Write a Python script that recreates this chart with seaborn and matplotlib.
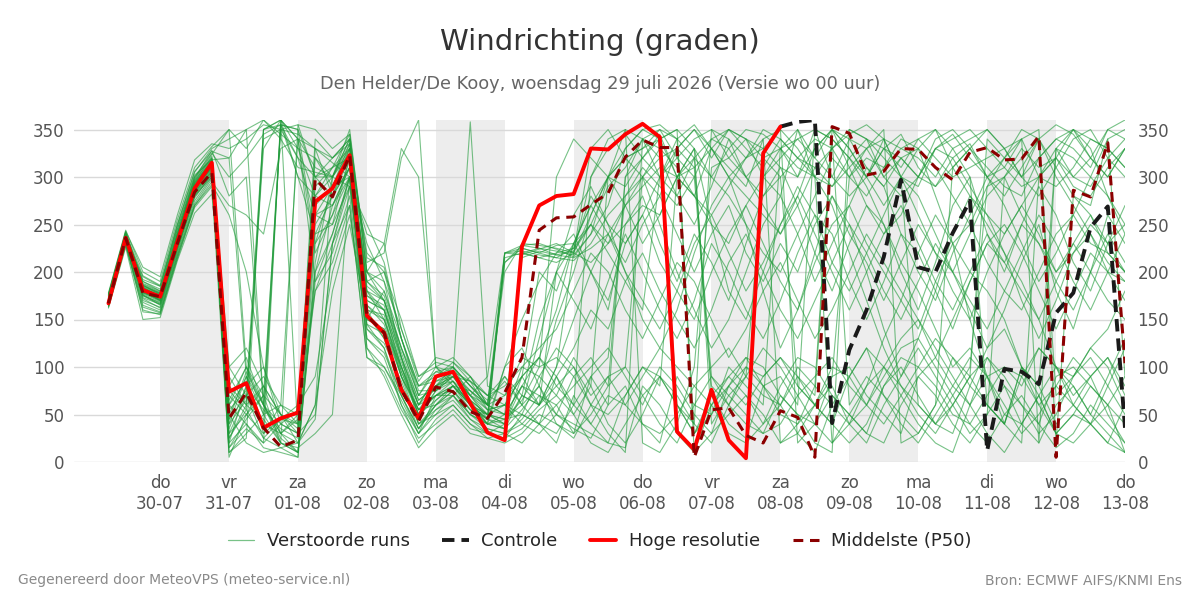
import pandas as pd
import numpy as np
import matplotlib
matplotlib.use("Agg")
import matplotlib.pyplot as plt
from matplotlib.lines import Line2D
import seaborn as sns

# tijdstappen: elke 6 uur vanaf wo 29-07 06:00 t/m do 13-08 00:00
times = pd.date_range("2026-07-29 06:00", periods=60, freq="6h")

# Hoge resolutie (loopt tot za 08-08 00:00)
hres = [167, 236, 181, 174, 232, 288, 315, 74, 83, 36, 46, 52, 274, 288, 323, 154, 136, 76, 46, 90,
        95, 62, 31, 23, 227, 270, 280, 282, 330, 329, 345, 356, 342, 32, 13, 76, 23, 4, 325, 353]

# Controle (vanaf za 08-08 00:00)
controle = [353, 358, 360, 41, 118, 160, 216, 297, 205, 200, 241, 275, 12, 98, 95, 82, 157, 178, 247, 269, 36]

# Middelste (P50)
p50 = [167, 236, 178, 174, 230, 284, 305, 46, 73, 36, 16, 23, 298, 279, 323, 154, 136, 76, 43, 79,
       74, 53, 46, 73, 110, 244, 257, 258, 271, 283, 321, 339, 331, 331, 5, 55, 57, 28, 20, 54,
       47, 5, 353, 346, 302, 306, 330, 329, 310, 297, 326, 331, 318, 319, 343, 5, 286, 279, 336, 104]

# verstoorde runs
ens_01 = [168, 238, 182, 175, 236, 292, 318, 60, 85, 40, 30, 45, 260, 290, 330, 160, 130, 80, 45, 85,
          90, 65, 40, 35, 220, 225, 218, 222, 250, 290, 310, 340, 330, 60, 30, 70, 40, 25, 80, 60,
          90, 70, 340, 320, 300, 330, 345, 310, 290, 320, 335, 300, 320, 340, 350, 20, 280, 270, 340, 90]
ens_02 = [172, 232, 175, 168, 228, 285, 305, 30, 70, 25, 15, 20, 45, 230, 300, 140, 120, 60, 30, 70,
          80, 55, 50, 45, 60, 80, 40, 30, 90, 60, 300, 320, 345, 300, 280, 330, 350, 340, 320, 300,
          80, 60, 40, 90, 120, 70, 50, 30, 60, 110, 90, 60, 40, 100, 80, 40, 60, 90, 110, 70]
ens_03 = [176, 240, 190, 180, 245, 300, 325, 300, 320, 345, 355, 320, 300, 280, 310, 200, 170, 120, 70, 95,
          100, 80, 60, 220, 228, 225, 222, 218, 240, 270, 330, 350, 355, 340, 320, 300, 330, 350, 345, 330,
          310, 300, 330, 350, 340, 320, 300, 290, 330, 345, 320, 300, 280, 310, 340, 355, 345, 320, 300, 330]
ens_04 = [165, 230, 168, 160, 220, 275, 300, 45, 95, 60, 20, 10, 230, 260, 320, 180, 150, 90, 55, 60,
          75, 50, 35, 30, 45, 70, 50, 35, 25, 60, 80, 40, 20, 90, 60, 50, 100, 80, 60, 330,
          350, 300, 20, 40, 80, 130, 170, 220, 260, 230, 200, 180, 150, 100, 60, 80, 110, 90, 50, 20]
ens_05 = [170, 235, 195, 185, 250, 305, 330, 340, 350, 360, 345, 330, 320, 300, 290, 250, 210, 130, 80, 90,
          95, 60, 45, 40, 80, 110, 90, 60, 300, 330, 345, 320, 300, 340, 355, 330, 300, 280, 260, 240,
          270, 310, 330, 345, 355, 340, 300, 60, 40, 30, 80, 120, 140, 100, 70, 30, 50, 80, 60, 10]
ens_06 = [168, 238, 180, 170, 230, 290, 315, 20, 40, 15, 10, 5, 200, 240, 300, 150, 140, 100, 60, 80,
          85, 70, 90, 220, 225, 220, 215, 212, 230, 260, 280, 300, 320, 330, 310, 90, 60, 40, 30, 70,
          50, 20, 10, 350, 340, 330, 320, 300, 340, 350, 330, 310, 290, 280, 320, 340, 330, 310, 350, 360]
ens_07 = [163, 228, 160, 155, 215, 270, 295, 270, 260, 240, 330, 340, 310, 300, 340, 170, 160, 110, 40, 50,
          70, 90, 60, 50, 100, 90, 70, 110, 80, 40, 20, 50, 90, 70, 40, 20, 60, 100, 80, 90,
          60, 350, 340, 320, 290, 250, 210, 180, 140, 100, 120, 90, 50, 40, 70, 30, 50, 40, 20, 60]
ens_08 = [175, 242, 185, 178, 240, 300, 320, 80, 110, 60, 40, 30, 280, 300, 340, 200, 180, 120, 70, 100,
          110, 90, 60, 200, 230, 228, 225, 220, 260, 300, 320, 330, 350, 340, 30, 60, 80, 100, 90, 110,
          80, 60, 90, 300, 320, 310, 340, 330, 280, 230, 150, 90, 40, 100, 80, 330, 350, 320, 300, 330]
ens_09 = [171, 234, 176, 165, 226, 282, 306, 10, 30, 50, 60, 40, 340, 320, 335, 120, 100, 70, 35, 60,
          70, 45, 30, 25, 50, 40, 20, 70, 40, 20, 15, 80, 60, 30, 10, 60, 90, 70, 50, 20,
          40, 80, 350, 330, 300, 270, 300, 330, 350, 310, 280, 250, 220, 190, 150, 100, 90, 120, 140, 180]
ens_10 = [166, 236, 178, 172, 234, 288, 310, 55, 75, 350, 355, 300, 280, 310, 320, 190, 200, 130, 70, 75,
          95, 85, 55, 60, 40, 30, 50, 90, 110, 80, 300, 340, 320, 280, 250, 290, 340, 320, 330, 350,
          330, 300, 270, 220, 170, 120, 80, 60, 40, 70, 100, 290, 300, 330, 310, 320, 350, 340, 330, 310]
ens_11 = [178, 244, 200, 190, 255, 310, 332, 350, 100, 60, 30, 50, 320, 290, 300, 230, 190, 140, 90, 105,
          100, 70, 45, 35, 70, 60, 80, 100, 70, 90, 60, 40, 30, 50, 80, 100, 120, 90, 70, 60,
          30, 10, 60, 90, 120, 100, 80, 50, 30, 60, 90, 340, 320, 300, 340, 70, 90, 110, 80, 50]
ens_12 = [169, 233, 172, 162, 222, 280, 302, 25, 60, 45, 20, 10, 190, 220, 280, 130, 110, 60, 20, 45,
          60, 40, 25, 20, 30, 50, 40, 25, 60, 90, 100, 70, 40, 20, 60, 90, 70, 50, 30, 40,
          70, 90, 110, 80, 60, 90, 120, 130, 100, 70, 40, 20, 50, 70, 40, 15, 30, 60, 40, 20]
ens_13 = [173, 239, 186, 176, 238, 295, 322, 5, 50, 80, 50, 30, 240, 250, 290, 160, 150, 100, 50, 65,
          80, 75, 60, 50, 220, 215, 220, 225, 280, 250, 230, 260, 300, 320, 340, 350, 320, 300, 280, 300,
          320, 340, 330, 300, 280, 310, 330, 340, 320, 300, 310, 320, 330, 300, 280, 310, 340, 350, 320, 300]
ens_14 = [164, 229, 165, 158, 218, 272, 298, 40, 90, 30, 60, 340, 330, 280, 310, 140, 125, 85, 40, 55,
          65, 45, 35, 30, 20, 40, 60, 80, 100, 120, 90, 60, 100, 80, 50, 30, 80, 110, 100, 70,
          50, 40, 90, 100, 70, 50, 30, 90, 110, 80, 60, 30, 10, 40, 70, 100, 80, 50, 90, 130]
ens_15 = [170, 237, 190, 182, 248, 302, 318, 320, 90, 50, 355, 350, 300, 310, 345, 210, 220, 320, 360, 100,
          95, 358, 80, 70, 110, 100, 300, 340, 320, 300, 350, 20, 10, 40, 100, 310, 320, 340, 300, 280,
          350, 320, 300, 340, 330, 350, 20, 30, 60, 310, 330, 300, 310, 340, 20, 330, 300, 320, 350, 340]
ens_16 = [167, 231, 178, 170, 228, 284, 308, 15, 35, 20, 40, 55, 180, 210, 270, 110, 95, 55, 25, 40,
          55, 35, 30, 40, 215, 222, 218, 215, 225, 240, 270, 290, 310, 300, 280, 250, 230, 270, 300, 330,
          340, 320, 350, 310, 270, 240, 260, 300, 330, 320, 290, 260, 240, 270, 300, 320, 300, 290, 320, 340]
ens_17 = [174, 241, 183, 175, 235, 293, 316, 70, 50, 30, 45, 60, 90, 200, 260, 145, 135, 75, 45, 75,
          85, 60, 40, 100, 120, 80, 50, 40, 30, 20, 70, 100, 90, 60, 40, 350, 340, 300, 320, 330,
          300, 350, 340, 60, 90, 70, 40, 20, 50, 80, 110, 90, 60, 30, 50, 80, 60, 40, 20, 10]
ens_18 = [162, 226, 150, 152, 212, 262, 282, 100, 120, 80, 30, 20, 60, 300, 330, 180, 170, 110, 60, 90,
          105, 85, 70, 90, 70, 60, 100, 220, 210, 230, 250, 270, 260, 300, 330, 300, 280, 250, 220, 200,
          240, 280, 320, 300, 330, 340, 300, 260, 220, 200, 240, 280, 300, 260, 230, 200, 220, 240, 210, 190]
ens_19 = [177, 243, 205, 195, 260, 318, 335, 330, 340, 355, 350, 345, 330, 315, 300, 240, 230, 140, 85, 110,
          105, 90, 70, 60, 50, 90, 120, 100, 60, 30, 10, 340, 350, 320, 300, 80, 60, 90, 120, 100,
          70, 40, 20, 50, 80, 100, 70, 40, 20, 10, 60, 90, 100, 80, 120, 100, 60, 40, 80, 120]
ens_20 = [168, 235, 173, 166, 225, 280, 300, 60, 100, 70, 20, 15, 30, 50, 300, 120, 90, 50, 15, 35,
          50, 30, 25, 30, 40, 60, 90, 50, 80, 300, 320, 330, 340, 350, 10, 30, 50, 70, 40, 60,
          100, 80, 60, 40, 20, 60, 90, 120, 90, 60, 30, 50, 80, 60, 30, 50, 90, 120, 100, 60]
ens_21 = [171, 237, 181, 173, 233, 290, 312, 35, 80, 55, 35, 25, 250, 280, 320, 170, 160, 95, 55, 70,
          75, 55, 45, 220, 218, 224, 230, 220, 300, 340, 350, 340, 300, 280, 320, 340, 350, 330, 310, 340,
          320, 300, 290, 320, 340, 300, 280, 300, 330, 340, 350, 330, 310, 290, 300, 320, 290, 280, 310, 330]
ens_22 = [175, 240, 192, 185, 245, 298, 328, 280, 300, 60, 25, 10, 200, 270, 310, 190, 175, 120, 80, 85,
          95, 70, 55, 60, 90, 110, 80, 60, 40, 70, 60, 90, 120, 100, 80, 60, 30, 20, 40, 80,
          110, 100, 70, 50, 30, 80, 110, 100, 80, 50, 40, 70, 100, 90, 60, 30, 20, 40, 60, 90]
ens_23 = [165, 232, 170, 163, 224, 278, 303, 50, 20, 10, 15, 5, 330, 320, 340, 150, 140, 90, 50, 80,
          90, 65, 50, 210, 225, 220, 228, 230, 270, 300, 290, 320, 340, 350, 330, 40, 70, 90, 300, 320,
          340, 350, 300, 280, 300, 330, 310, 340, 350, 330, 300, 60, 40, 20, 300, 330, 320, 300, 340, 350]
ens_24 = [172, 236, 184, 177, 238, 294, 319, 90, 60, 80, 50, 40, 290, 310, 330, 220, 200, 150, 90, 100,
          85, 60, 40, 50, 80, 70, 60, 30, 50, 80, 100, 300, 330, 310, 280, 260, 290, 320, 340, 20,
          30, 60, 80, 40, 60, 100, 130, 150, 120, 90, 60, 110, 90, 60, 40, 90, 100, 80, 60, 40]
ens_25 = [169, 234, 177, 169, 230, 286, 309, 15, 45, 70, 50, 35, 300, 300, 325, 165, 145, 90, 40, 60,
          80, 60, 45, 220, 222, 218, 215, 225, 250, 220, 190, 160, 300, 330, 350, 330, 310, 290, 340, 350,
          20, 40, 70, 50, 30, 20, 60, 90, 70, 40, 20, 50, 300, 320, 340, 300, 270, 240, 200, 190]
ens_26 = [176, 242, 188, 180, 242, 296, 320, 65, 100, 50, 20, 355, 350, 330, 345, 200, 190, 110, 65, 80,
          100, 80, 65, 85, 60, 40, 30, 60, 90, 110, 280, 310, 290, 270, 300, 340, 330, 300, 270, 240,
          280, 330, 350, 340, 310, 290, 320, 330, 310, 280, 250, 290, 320, 350, 340, 310, 280, 260, 220, 200]
ens_27 = [167, 230, 163, 157, 217, 270, 292, 260, 200, 100, 40, 30, 50, 230, 270, 110, 100, 65, 30, 50,
          60, 40, 30, 25, 35, 55, 70, 50, 20, 10, 40, 70, 90, 60, 30, 50, 80, 60, 90, 110,
          90, 60, 40, 20, 40, 80, 100, 70, 40, 60, 90, 110, 80, 40, 20, 60, 80, 50, 30, 10]
ens_28 = [173, 238, 184, 174, 236, 291, 314, 45, 70, 90, 60, 50, 270, 290, 320, 175, 165, 105, 60, 70,
          70, 50, 40, 215, 220, 215, 210, 220, 330, 350, 320, 300, 280, 330, 350, 320, 350, 340, 330, 310,
          300, 330, 350, 330, 300, 340, 330, 320, 300, 330, 340, 350, 330, 300, 320, 340, 350, 330, 280, 250]
ens_29 = [170, 235, 179, 171, 231, 287, 311, 75, 55, 25, 45, 40, 260, 270, 300, 155, 130, 80, 35, 65,
          80, 60, 50, 45, 65, 100, 110, 90, 60, 50, 70, 100, 80, 300, 320, 70, 90, 110, 80, 50,
          40, 60, 100, 90, 60, 40, 70, 100, 130, 110, 80, 60, 40, 90, 120, 100, 70, 90, 110, 80]
ens_30 = [171, 236, 186, 178, 240, 297, 324, 350, 330, 360, 340, 310, 305, 300, 335, 215, 205, 130, 75, 75,
          90, 75, 60, 210, 228, 230, 224, 216, 240, 300, 330, 350, 340, 300, 310, 330, 300, 320, 350, 340,
          320, 310, 290, 310, 330, 300, 320, 300, 290, 310, 330, 350, 330, 340, 300, 290, 310, 340, 330, 310]
ens_31 = [169, 235, 183, 176, 234, 290, 313, 40, 65, 330, 360, 340, 220, 260, 300, 180, 160, 100, 50, 70,
          85, 60, 45, 100, 150, 190, 220, 240, 200, 170, 230, 260, 210, 180, 150, 200, 240, 270, 230, 190,
          160, 210, 250, 270, 230, 200, 170, 140, 190, 230, 250, 210, 180, 160, 200, 240, 260, 230, 220, 200]
ens_32 = [174, 239, 179, 170, 229, 286, 310, 25, 55, 350, 360, 300, 240, 280, 330, 165, 150, 95, 50, 75,
          90, 70, 60, 90, 60, 130, 200, 260, 290, 250, 200, 150, 120, 160, 220, 270, 300, 250, 180, 120,
          160, 220, 280, 250, 200, 140, 90, 130, 180, 240, 280, 260, 220, 170, 130, 170, 220, 250, 230, 250]
ens_33 = [166, 233, 176, 167, 227, 283, 307, 60, 40, 20, 360, 30, 180, 230, 290, 145, 120, 70, 30, 55,
          70, 50, 40, 35, 55, 80, 150, 200, 260, 300, 270, 230, 260, 300, 330, 250, 180, 150, 200, 250,
          290, 260, 210, 180, 220, 260, 300, 280, 240, 200, 160, 120, 160, 210, 250, 180, 140, 200, 260, 230]
ens_34 = [172, 240, 187, 179, 240, 294, 317, 80, 60, 340, 350, 320, 260, 250, 320, 190, 170, 110, 60, 90,
          100, 80, 60, 70, 90, 60, 200, 230, 250, 230, 270, 300, 250, 200, 160, 120, 150, 200, 250, 280,
          240, 190, 230, 270, 310, 290, 240, 200, 170, 220, 260, 300, 270, 230, 190, 220, 260, 300, 280, 240]
ens_35 = [170, 236, 180, 171, 231, 288, 311, 20, 80, 100, 50, 20, 60, 180, 250, 150, 180, 130, 80, 95,
          90, 85, 70, 80, 100, 120, 140, 180, 220, 200, 160, 130, 170, 210, 190, 150, 110, 140, 180, 210,
          170, 130, 160, 200, 240, 210, 180, 150, 110, 150, 190, 230, 250, 220, 180, 140, 180, 220, 200, 170]
ens_36 = [175, 241, 196, 186, 250, 306, 327, 320, 350, 60, 30, 10, 210, 300, 350, 200, 230, 330, 300, 100,
          80, 60, 50, 40, 90, 200, 180, 230, 200, 160, 250, 280, 230, 190, 240, 210, 170, 230, 280, 310,
          270, 220, 180, 230, 270, 250, 200, 160, 210, 270, 300, 240, 200, 250, 290, 260, 210, 180, 230, 270]
ens_37 = [168, 234, 175, 166, 225, 281, 304, 30, 50, 70, 350, 355, 300, 320, 340, 160, 155, 90, 55, 70,
          80, 65, 50, 40, 70, 150, 200, 170, 140, 190, 240, 200, 160, 130, 170, 230, 200, 160, 130, 170,
          220, 260, 240, 190, 150, 190, 240, 220, 180, 140, 190, 230, 210, 250, 230, 190, 160, 200, 240, 210]
ens_38 = [164, 231, 158, 156, 214, 268, 290, 10, 25, 350, 360, 340, 190, 240, 300, 130, 115, 70, 35, 60,
          75, 55, 40, 45, 50, 40, 90, 120, 160, 140, 190, 220, 180, 150, 120, 160, 210, 240, 200, 160,
          130, 170, 210, 250, 220, 180, 150, 190, 230, 200, 170, 140, 180, 220, 260, 230, 190, 160, 200, 240]
ens_39 = [171, 238, 182, 173, 233, 289, 313, 50, 90, 60, 360, 330, 280, 270, 310, 175, 160, 100, 55, 80,
          90, 70, 50, 60, 90, 110, 160, 230, 270, 240, 210, 250, 280, 240, 200, 240, 270, 220, 190, 230,
          200, 250, 280, 240, 210, 170, 210, 250, 220, 180, 150, 200, 240, 270, 240, 200, 230, 260, 230, 200]
ens_40 = [173, 237, 186, 177, 237, 292, 316, 100, 70, 40, 355, 350, 230, 290, 335, 185, 170, 115, 65, 80,
          95, 75, 55, 50, 80, 60, 100, 150, 200, 240, 200, 170, 140, 180, 230, 260, 220, 180, 210, 250,
          280, 240, 200, 160, 200, 240, 270, 230, 190, 160, 200, 240, 210, 180, 150, 190, 230, 200, 170, 150]

runs = [ens_01, ens_02, ens_03, ens_04, ens_05, ens_06, ens_07, ens_08, ens_09, ens_10,
        ens_11, ens_12, ens_13, ens_14, ens_15, ens_16, ens_17, ens_18, ens_19, ens_20,
        ens_21, ens_22, ens_23, ens_24, ens_25, ens_26, ens_27, ens_28, ens_29, ens_30,
        ens_31, ens_32, ens_33, ens_34, ens_35, ens_36, ens_37, ens_38, ens_39, ens_40]

dag_labels = ["do\n30-07", "vr\n31-07", "za\n01-08", "zo\n02-08", "ma\n03-08", "di\n04-08", "wo\n05-08",
              "do\n06-08", "vr\n07-08", "za\n08-08", "zo\n09-08", "ma\n10-08", "di\n11-08", "wo\n12-08",
              "do\n13-08"]

# data in lange vorm
ens_df = pd.concat([pd.DataFrame({"tijd": times, "richting": r, "run": k}) for k, r in enumerate(runs)])
hres_df = pd.DataFrame({"tijd": times[:len(hres)], "richting": hres})
ctrl_df = pd.DataFrame({"tijd": times[len(times) - len(controle):], "richting": controle})
p50_df = pd.DataFrame({"tijd": times, "richting": p50})

sns.set_style("white")
plt.rcParams["font.family"] = ["DejaVu Sans"]

GREEN = "#1e9a38"
TXT = "#555555"

fig = plt.figure(figsize=(12, 6), dpi=100)
ax = fig.add_axes([74 / 1200, 1 - 462 / 600, (1125 - 74) / 1200, (462 - 120) / 600])

# grijze banden om de dag
dagen = pd.date_range("2026-07-30", "2026-08-13", freq="D")
for d in dagen[::2][:-1]:
    ax.axvspan(d, d + pd.Timedelta(days=1), color="#ededed", zorder=0, lw=0)

for v in range(0, 351, 50):
    ax.axhline(v, color="#d9d9d9", lw=1, zorder=0.5)

sns.lineplot(data=ens_df, x="tijd", y="richting", units="run", estimator=None, color=GREEN,
             linewidth=0.8, alpha=0.6, ax=ax, legend=False)
sns.lineplot(data=ctrl_df, x="tijd", y="richting", color="#1a1a1a", linewidth=2.8,
             linestyle=(0, (3.2, 1.8)), ax=ax)
sns.lineplot(data=hres_df, x="tijd", y="richting", color="#ff0000", linewidth=2.8, ax=ax)
sns.lineplot(data=p50_df, x="tijd", y="richting", color="#8b0000", linewidth=2.2,
             linestyle=(0, (3.2, 2.2)), ax=ax)

ax.set_xlim(pd.Timestamp("2026-07-28 18:00"), pd.Timestamp("2026-08-13 00:00"))
ax.set_ylim(0, 360)
ax.set_xticks(dagen)
ax.set_xticklabels(dag_labels)
ax.set_yticks(range(0, 351, 50))
ax.set_xlabel("")
ax.set_ylabel("")
ax.tick_params(axis="x", colors=TXT, labelsize=12, length=5, width=1.2, pad=4, labelcolor=TXT)
ax.tick_params(axis="y", colors=TXT, labelsize=12, length=0, pad=7)
for s in ax.spines.values():
    s.set_visible(False)

ax2 = ax.twinx()
ax2.set_ylim(0, 360)
ax2.set_yticks(range(0, 351, 50))
ax2.tick_params(axis="y", colors=TXT, labelsize=12, length=0, pad=9)
for s in ax2.spines.values():
    s.set_visible(False)

fig.text(0.5, 0.93, "Windrichting (graden)", ha="center", va="center", fontsize=21, color="#333333")
fig.text(0.5, 0.86, "Den Helder/De Kooy, woensdag 29 juli 2026 (Versie wo 00 uur)", ha="center",
         va="center", fontsize=12.8, color="#666666")

handles = [Line2D([], [], color=GREEN, lw=0.9, alpha=0.6),
           Line2D([], [], color="#1a1a1a", lw=2.8, linestyle=(0, (3.2, 1.8))),
           Line2D([], [], color="#ff0000", lw=2.8),
           Line2D([], [], color="#8b0000", lw=2.2, linestyle=(0, (3.2, 2.2)))]
fig.legend(handles, ["Verstoorde runs", "Controle", "Hoge resolutie", "Middelste (P50)"],
           loc="center", bbox_to_anchor=(0.5, 0.098), ncol=4, frameon=False, fontsize=13,
           handlelength=1.45, columnspacing=1.8, handletextpad=0.7)

fig.text(0.015, 0.033, "Gegenereerd door MeteoVPS (meteo-service.nl)", ha="left", va="center",
         fontsize=10, color="#8a8a8a")
fig.text(0.985, 0.033, "Bron: ECMWF AIFS/KNMI Ens", ha="right", va="center", fontsize=10, color="#8a8a8a")

fig.savefig("out.png", dpi=100)
